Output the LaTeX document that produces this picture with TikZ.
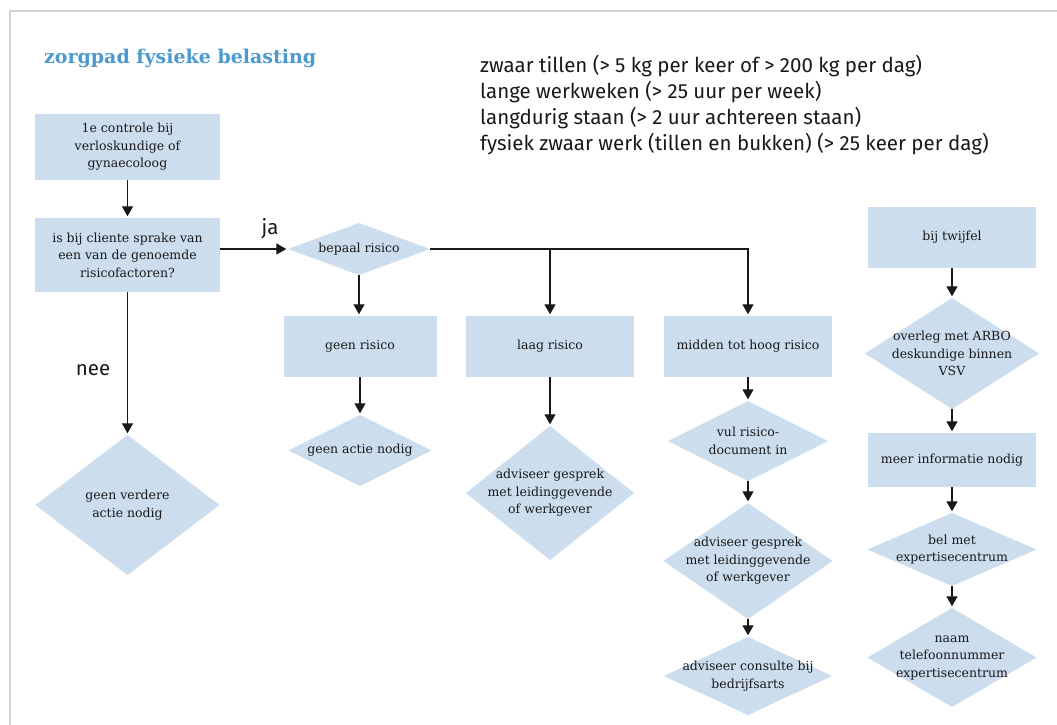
\documentclass[tikz,border=0pt]{standalone}
\usepackage{fontspec}
\setmainfont{DejaVu Serif}
\newfontfamily\listfont{Fira Sans}
\usetikzlibrary{arrows.meta}
\definecolor{boxblue}{RGB}{204,221,238}
\definecolor{titleblue}{RGB}{74,154,209}
\definecolor{framegray}{RGB}{211,211,211}
\definecolor{ink}{RGB}{25,25,25}
\begin{document}
\begin{tikzpicture}[x=1pt,y=-1pt,
  box/.style={rectangle, fill=boxblue, inner sep=0pt, align=center, text=ink,
    font=\fontsize{12.5}{17.5}\selectfont},
  dia/.style={rectangle, inner sep=0pt, align=center, text=ink,
    font=\fontsize{12.5}{17.5}\selectfont,
    path picture={\fill[boxblue] (path picture bounding box.north) -- (path picture bounding box.east) -- (path picture bounding box.south) -- (path picture bounding box.west) -- cycle;}},
  arr/.style={-{Triangle[width=11pt,length=10pt]}, line width=1.2pt, draw=ink, shorten >=1.5pt},
  lbl/.style={font=\listfont\fontsize{20.5}{26}\selectfont, text=ink, inner sep=0pt}
]
\useasboundingbox (0,0) rectangle (1057,724);
\draw[framegray, line width=2pt] (9.5,11) -- (1080,11);
\draw[framegray, line width=2pt] (9.5,11) -- (9.5,740);

\node[anchor=base west, inner sep=0pt, text=titleblue, font=\fontsize{19}{24}\selectfont\bfseries] (title) at (44,63) {zorgpad fysieke belasting};

\node[lbl, anchor=base west] (r1) at (480,72) {zwaar tillen (> 5 kg per keer of > 200 kg per dag)};
\node[lbl, anchor=base west] (r2) at (480,98) {lange werkweken (> 25 uur per week)};
\node[lbl, anchor=base west] (r3) at (480,124) {langdurig staan (> 2 uur achtereen staan)};
\node[lbl, anchor=base west] (r4) at (480,150) {fysiek zwaar werk (tillen en bukken) (> 25 keer per dag)};

% left column
\node[box, minimum width=185pt, minimum height=66pt] (c1) at (127.5,147) {1e controle bij\\verloskundige of\\gynaecoloog};
\node[box, minimum width=185pt, minimum height=74pt] (q) at (127.5,255) {is bij cliente sprake van\\een van de genoemde\\risicofactoren?};
\node[dia, minimum width=184pt, minimum height=140pt] (gva) at (127.5,505) {geen verdere\\actie nodig};

% middle
\node[dia, minimum width=142pt, minimum height=52pt] (br) at (359,249) {bepaal risico};
\node[box, minimum width=153pt, minimum height=61pt] (geen) at (360,346.5) {geen risico};
\node[box, minimum width=168pt, minimum height=61pt] (laag) at (550,346.5) {laag risico};
\node[box, minimum width=168pt, minimum height=61pt] (mth) at (748,346.5) {midden tot hoog risico};

\node[dia, minimum width=143pt, minimum height=71pt] (gan) at (360,450.5) {geen actie nodig};
\node[dia, minimum width=168pt, minimum height=134pt] (adv1) at (550,493) {adviseer gesprek\\met leidinggevende\\of werkgever};

\node[dia, minimum width=160pt, minimum height=80pt] (vul) at (748,441) {vul risico-\\document in};
\node[dia, minimum width=169pt, minimum height=116pt] (adv2) at (748,561) {adviseer gesprek\\met leidinggevende\\of werkgever};
\node[dia, minimum width=168pt, minimum height=78pt] (cons) at (748,676) {adviseer consulte bij\\bedrijfsarts};

% right column
\node[box, minimum width=168pt, minimum height=61pt] (tw) at (952,237.5) {bij twijfel};
\node[dia, minimum width=174pt, minimum height=111pt] (ov) at (952,353.5) {overleg met ARBO\\deskundige binnen\\VSV};
\node[box, minimum width=168pt, minimum height=54pt] (meer) at (952,460) {meer informatie nodig};
\node[dia, minimum width=169pt, minimum height=73pt] (bel) at (952,549.5) {bel met\\expertisecentrum};
\node[dia, minimum width=169pt, minimum height=99pt] (naam) at (952,657.5) {naam\\telefoonnummer\\expertisecentrum};

% labels
\node[lbl] (ja) at (270,229) {ja};
\node[lbl] (nee) at (93,370) {nee};

% connectors
\draw[arr] (c1.south) -- (q.north);
\draw[arr] (q.east |- br.west) -- (br.west);
\draw[arr] (q.south) -- (gva.north);
\draw[arr] (br.south) -- (br.south |- geen.north);
\draw[arr] (br.east) -| (mth.north);
\draw[arr] (br.east -| laag.north) -- (laag.north);
\draw[arr] (geen.south) -- (gan.north);
\draw[arr] (laag.south) -- (adv1.north);
\draw[arr] (mth.south) -- (vul.north);
\draw[arr] (vul.south) -- (adv2.north);
\draw[arr] (adv2.south) -- (cons.north);
\draw[arr] (tw.south) -- (ov.north);
\draw[arr] (ov.south) -- (meer.north);
\draw[arr] (meer.south) -- (bel.north);
\draw[arr] (bel.south) -- (naam.north);
\end{tikzpicture}
\end{document}
